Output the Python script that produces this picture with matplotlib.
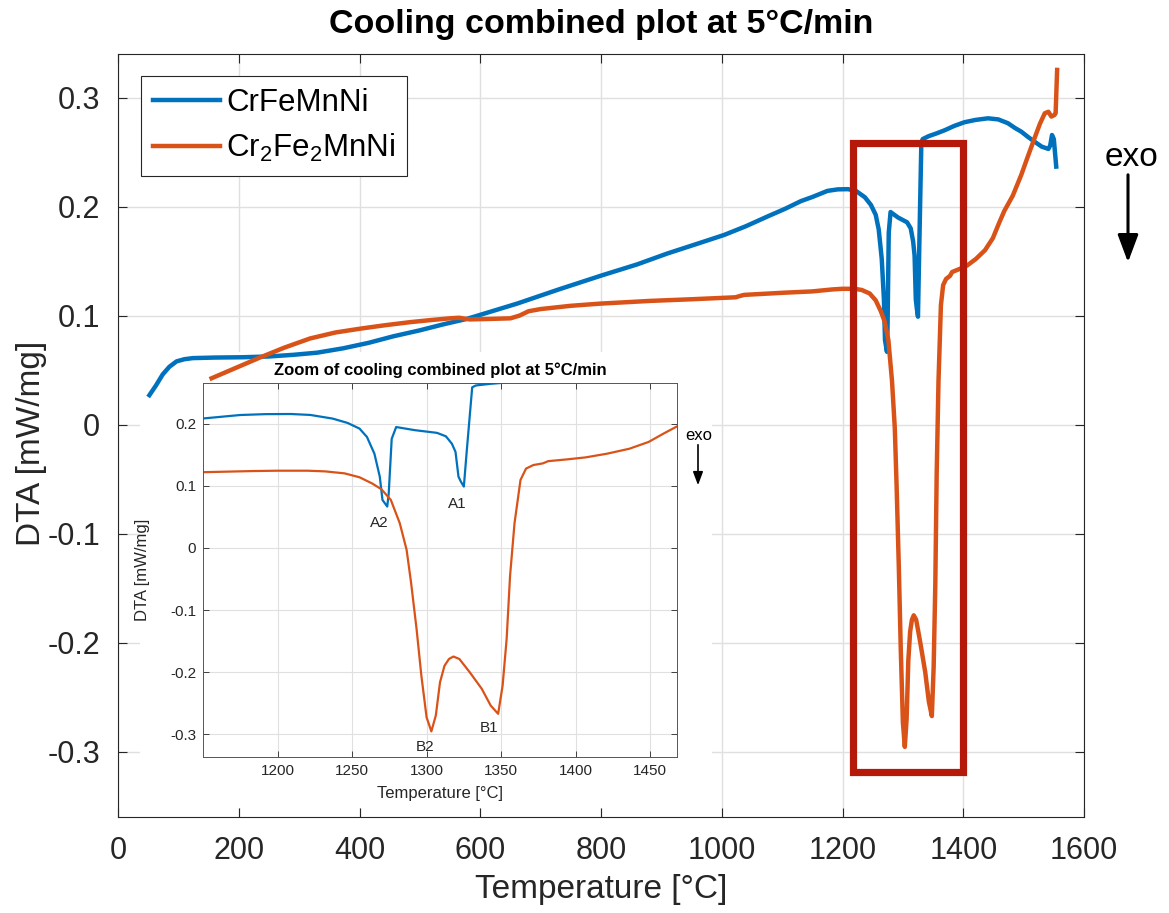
import matplotlib
matplotlib.use("Agg")
import matplotlib.pyplot as plt
from matplotlib.patches import Rectangle, FancyArrowPatch

plt.rcParams['font.family'] = ['Liberation Sans', 'DejaVu Sans']

# CrFeMnNi cooling curve (temperature in degC, DTA in mW/mg)
temp_a = [52, 63, 74, 85, 97, 110, 124, 160, 207, 250, 290, 330, 373, 415, 456,
          500, 539, 578, 661, 730, 802, 860, 910, 960, 1004, 1040, 1076, 1105,
          1131, 1150, 1175, 1192, 1209, 1222, 1237, 1247, 1255, 1260, 1265,
          1268.6, 1270.4, 1273.6, 1274.6, 1276.6, 1279.6, 1292, 1307, 1313,
          1317, 1319.4, 1321.4, 1323, 1325, 1327, 1330.6, 1333, 1343, 1355,
          1369, 1385, 1402, 1420, 1441, 1458, 1474, 1486, 1496, 1507, 1518,
          1530, 1541, 1544, 1547, 1550, 1554]
dta_a = [0.027, 0.036, 0.046, 0.053, 0.058, 0.060, 0.061, 0.0615, 0.0618,
         0.0625, 0.064, 0.066, 0.070, 0.075, 0.081, 0.0865, 0.092, 0.097, 0.111,
         0.124, 0.137, 0.147, 0.157, 0.166, 0.174, 0.182, 0.191, 0.198, 0.205,
         0.2088, 0.2144, 0.2158, 0.2160, 0.2145, 0.2086, 0.2016, 0.1925, 0.179,
         0.152, 0.115, 0.0775, 0.0668, 0.088, 0.176, 0.195, 0.19, 0.1856, 0.18,
         0.168, 0.155, 0.115, 0.107, 0.099, 0.158, 0.259, 0.262, 0.2647, 0.267,
         0.270, 0.274, 0.2774, 0.2795, 0.281, 0.280, 0.2765, 0.272, 0.2688,
         0.264, 0.2596, 0.255, 0.2529, 0.256, 0.2657, 0.262, 0.2367]

# Cr2Fe2MnNi cooling curve
temp_b = [155, 195, 235, 275, 318, 360, 401, 440, 484, 520, 550, 565, 583, 620,
          650, 665, 680, 700, 750, 799, 882, 950, 1023, 1030, 1037, 1103, 1150,
          1183, 1200, 1220, 1232, 1245, 1255, 1263.5, 1269.7, 1276, 1282, 1286.6,
          1289.6, 1293.3, 1296.5, 1300, 1303.2, 1306.2, 1309, 1312, 1315, 1318,
          1322, 1329, 1337, 1343, 1348, 1351, 1353.7, 1356, 1359, 1363, 1366.7,
          1371.6, 1378, 1381.6, 1394, 1406.5, 1421, 1436, 1449, 1459, 1468,
          1482, 1496, 1507, 1518, 1527, 1535, 1541, 1546, 1551, 1553, 1555.5]
dta_b = [0.0425, 0.052, 0.0615, 0.0705, 0.079, 0.0845, 0.088, 0.091, 0.094,
         0.096, 0.0975, 0.098, 0.0965, 0.097, 0.0975, 0.100, 0.104, 0.106,
         0.109, 0.111, 0.1135, 0.115, 0.1168, 0.118, 0.119, 0.121, 0.1222,
         0.124, 0.1246, 0.1246, 0.1235, 0.1203, 0.114, 0.104, 0.0947, 0.0775,
         0.040, -0.003, -0.056, -0.131, -0.206, -0.273, -0.2957, -0.27, -0.2166,
         -0.19, -0.179, -0.175, -0.179, -0.2005, -0.227, -0.254, -0.2674, -0.222,
         -0.147, -0.045, 0.040, 0.1096, 0.128, 0.1337, 0.1364, 0.140, 0.1428,
         0.146, 0.152, 0.160, 0.171, 0.1845, 0.196, 0.21, 0.229, 0.246, 0.2627,
         0.276, 0.2856, 0.287, 0.2826, 0.284, 0.2856, 0.3254]

labels = ['CrFeMnNi', r'Cr$_\mathregular{2}$Fe$_\mathregular{2}$MnNi']

# peak names in the zoom
peak_names = ['A2', 'A1', 'B2', 'B1']
peak_temp = [1268.4, 1320.6, 1299, 1341.8]
peak_dta = [0.041, 0.071, -0.321, -0.291]

# highlighted region
box_t = [1217, 1400]
box_v = [-0.319, 0.258]

blue = '#0072BD'
orange = '#D95319'
box_red = '#B4190A'
grid_c = '#e0e0e0'
axis_c = '#262626'

W, H = 1169, 913
fig = plt.figure(figsize=(W / 100, H / 100), dpi=100)

# main plot
ax = fig.add_axes([118 / W, 1 - 817 / H, 966 / W, 763 / H])
ax.set_axisbelow(True)
ax.plot(temp_a, dta_a, color=blue, lw=3.2, label=labels[0], zorder=2)
ax.plot(temp_b, dta_b, color=orange, lw=3.2, label=labels[1], zorder=2)
ax.add_patch(Rectangle((box_t[0], box_v[0]), box_t[1] - box_t[0], box_v[1] - box_v[0],
                       fill=False, edgecolor=box_red, lw=5.2, zorder=3))
ax.set_xlim(0, 1600)
ax.set_ylim(-0.36, 0.34)
ax.set_xticks(range(0, 1601, 200))
ax.set_yticks([-0.3, -0.2, -0.1, 0, 0.1, 0.2, 0.3])
ax.set_yticklabels(['-0.3', '-0.2', '-0.1', '0', '0.1', '0.2', '0.3'])
ax.grid(True, color=grid_c, lw=1)
ax.tick_params(direction='in', length=6.5, width=0.8, top=True, right=True,
               labelsize=22, color=axis_c, labelcolor=axis_c)
ax.tick_params(axis='x', pad=14)
ax.tick_params(axis='y', pad=13)
for s in ax.spines.values():
    s.set_color(axis_c)
    s.set_linewidth(0.8)
ax.set_xlabel('Temperature [°C]', fontsize=24, color=axis_c)
ax.xaxis.set_label_coords(0.5, -0.075)
ax.set_ylabel('DTA [mW/mg]', fontsize=24, color=axis_c)
ax.yaxis.set_label_coords(-0.074, 0.49)
ax.set_title('Cooling combined plot at 5°C/min', fontsize=24.5, fontweight='bold', pad=15)

leg = ax.legend(loc='upper left', bbox_to_anchor=(141 / W, 1 - 76 / H),
                bbox_transform=fig.transFigure, borderaxespad=0, fontsize=22.5,
                fancybox=False, framealpha=1, edgecolor=axis_c, handlelength=2.15,
                handletextpad=0.2, labelspacing=0.45, borderpad=0.38)
leg.get_frame().set_linewidth(0.8)

# white background behind the zoom panel
ax.add_patch(Rectangle((140 / W, 1 - 808 / H), 572 / W, 456 / H, transform=fig.transFigure,
                       facecolor='white', edgecolor='none', zorder=1))

fig.text(1131 / W, 1 - 158 / H, 'exo', fontsize=24, ha='center', va='center')
fig.add_artist(FancyArrowPatch(
    (1128 / W, 1 - 172 / H), (1128 / W, 1 - 265 / H), transform=fig.transFigure,
    arrowstyle='-|>,head_length=1.2,head_width=0.45', mutation_scale=14, lw=2.2, color='black'))

# zoom panel
axin = fig.add_axes([203 / W, 1 - 757 / H, 474 / W, 374 / H])
axin.plot(temp_a, dta_a, color=blue, lw=1.6)
axin.plot(temp_b, dta_b, color=orange, lw=1.6)
axin.set_xlim(1150, 1468)
axin.set_ylim(-0.337, 0.266)
axin.set_xticks(range(1200, 1451, 50))
axin.set_yticks([-0.3, -0.2, -0.1, 0, 0.1, 0.2])
axin.set_yticklabels(['-0.3', '-0.2', '-0.1', '0', '0.1', '0.2'])
axin.grid(True, color=grid_c, lw=0.8)
axin.set_axisbelow(True)
axin.tick_params(direction='in', length=4, width=0.6, top=True, right=True,
                 labelsize=11, color=axis_c, labelcolor=axis_c, pad=5)
for s in axin.spines.values():
    s.set_color('#555555')
    s.set_linewidth(0.7)
axin.set_title('Zoom of cooling combined plot at 5°C/min', fontsize=12,
               fontweight='bold', pad=6)
axin.set_xlabel('Temperature [°C]', fontsize=12, color=axis_c)
axin.xaxis.set_label_coords(0.5, -0.078)
axin.set_ylabel('DTA [mW/mg]', fontsize=12, color=axis_c)
axin.yaxis.set_label_coords(-0.112, 0.5)
for name, t, v in zip(peak_names, peak_temp, peak_dta):
    axin.text(t, v, name, fontsize=11, ha='center', va='center', color=axis_c)

fig.text(699 / W, 1 - 435 / H, 'exo', fontsize=12, ha='center', va='center')
fig.add_artist(FancyArrowPatch(
    (698 / W, 1 - 442 / H), (698 / W, 1 - 488 / H), transform=fig.transFigure,
    arrowstyle='-|>,head_length=0.8,head_width=0.3', mutation_scale=10, lw=1.2, color='black'))

fig.savefig('out.png', dpi=100)
